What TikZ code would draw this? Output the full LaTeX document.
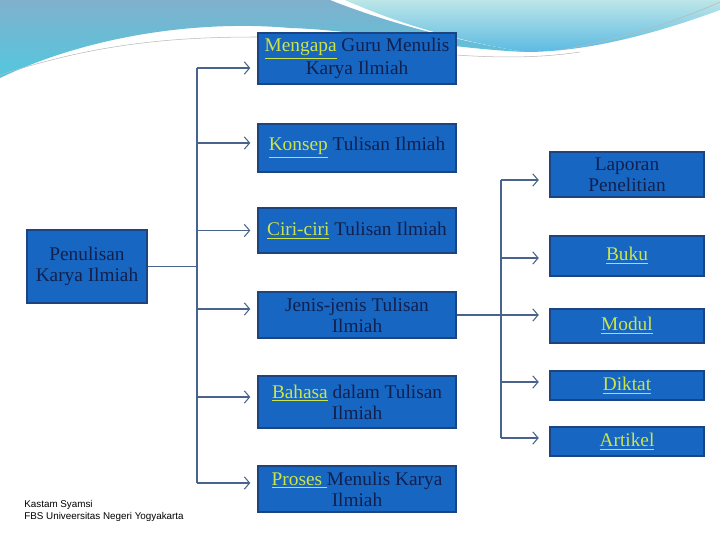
\documentclass[tikz,border=0pt]{standalone}
\usepackage{fontspec}
\setmainfont{Liberation Serif}
\newfontfamily\footfont{Liberation Sans}
\usetikzlibrary{arrows.meta, positioning, calc}
\definecolor{boxblue}{RGB}{22,102,194}
\definecolor{boxedge}{RGB}{28,68,128}
\definecolor{textnavy}{RGB}{18,32,78}
\definecolor{hilite}{RGB}{205,228,72}
\definecolor{linkgray}{RGB}{72,100,140}
\definecolor{waveblue}{RGB}{128,176,205}
\definecolor{wavecyan}{RGB}{82,200,222}
\definecolor{palecyan}{RGB}{188,230,232}
\definecolor{deepcyan}{RGB}{92,186,226}
\newcommand{\hl}[1]{\textcolor{hilite}{\underline{#1}}}

\begin{document}
\begin{tikzpicture}[x=0.02cm, y=-0.02cm,
  kbox/.style={draw=boxedge, line width=0.8pt, fill=boxblue, text=textnavy, align=center, inner sep=1pt, font=\fontsize{11}{12}\selectfont},
  midbox/.style={kbox, minimum width=3.96cm},
  subbox/.style={kbox, minimum width=3.08cm},
  link/.style={draw=linkgray, line width=0.6pt},
  arr/.style={link, -{Straight Barb[length=3pt, width=7pt]}, shorten >=4pt}
]
  \useasboundingbox (0,0) rectangle (720,540);
  \fill[white] (0,0) rectangle (720,540);

  % top waves
  \shade[top color=waveblue, bottom color=wavecyan] (0,0) -- (330,0) .. controls (380,20) and (450,40) .. (525,52)
    .. controls (440,48) and (360,30) .. (290,28) .. controls (200,20) and (90,35) .. (0,78) -- cycle;
  \shade[top color=palecyan, bottom color=deepcyan] (345,0) -- (720,0) -- (720,10) .. controls (660,32) and (590,52) .. (525,52)
    .. controls (450,40) and (390,20) .. (345,0) -- cycle;
  \draw[gray!55, line width=0.3pt] (0,75) .. controls (100,42) and (180,37) .. (258,37);
  \draw[gray!55, line width=0.3pt] (456,55) .. controls (500,58) and (540,58) .. (580,52);
  \draw[gray!55, line width=0.3pt] (560,50) .. controls (620,40) and (680,20) .. (720,2);

  \node[kbox, minimum width=2.4cm, minimum height=1.46cm] (penulisan) at (87,266.5) {Penulisan\\Karya Ilmiah};

  \node[midbox, minimum height=1.02cm] (mengapa) at (357,58.5) {\hl{Mengapa} Guru Menulis\\Karya Ilmiah};
  \node[midbox, minimum height=0.96cm] (konsep) at (357,148) {\hl{Konsep} Tulisan Ilmiah};
  \node[midbox, minimum height=0.9cm] (ciri) at (357,230.5) {\hl{Ciri-ciri} Tulisan Ilmiah};
  \node[midbox, minimum height=0.92cm] (jenis) at (357,315) {Jenis-jenis Tulisan\\Ilmiah};
  \node[midbox, minimum height=1.04cm] (bahasa) at (357,402) {\hl{Bahasa} dalam Tulisan\\Ilmiah};
  \node[midbox, minimum height=0.92cm] (proses) at (357,489) {\hl{Proses\ }Menulis Karya\\Ilmiah};

  \node[subbox, minimum height=0.9cm] (laporan) at (627,174.5) {Laporan\\Penelitian};
  \node[subbox, minimum height=0.8cm] (buku) at (627,256) {\hl{Buku}};
  \node[subbox, minimum height=0.68cm] (modul) at (627,326) {\hl{Modul}};
  \node[subbox, minimum height=0.58cm] (diktat) at (627,385.5) {\hl{Diktat}};
  \node[subbox, minimum height=0.58cm] (artikel) at (627,441.5) {\hl{Artikel}};

  \node[anchor=north west, inner sep=0pt, align=left, font=\footfont\fontsize{5.6}{6.8}\selectfont] (penulis) at (24,500)
    {Kastam Syamsi\\FBS Univeersitas Negeri Yogyakarta};

  \coordinate (trunkL) at (197,0);
  \coordinate (trunkR) at (501,0);
  \foreach \n/\dy in {mengapa/9.5, konsep/-5, ciri/0, jenis/-6, bahasa/-5, proses/-6}
    \coordinate (\n-in) at ($(\n.west)+(0,\dy)$);
  \foreach \n/\dy in {laporan/5.5, buku/2, modul/-11, diktat/-3.5, artikel/-3.5}
    \coordinate (\n-in) at ($(\n.west)+(0,\dy)$);

  \draw[link] (penulisan.east) -- (trunkL |- penulisan.east);
  \draw[link] (trunkL |- mengapa-in) -- (trunkL |- proses-in);
  \foreach \n in {mengapa, konsep, ciri, jenis, bahasa, proses}
    \draw[arr] (trunkL |- \n-in) -- (\n-in);

  \draw[link] (jenis.east) -- (trunkR |- jenis.east);
  \draw[link] (trunkR |- laporan-in) -- (trunkR |- artikel-in);
  \foreach \n in {laporan, buku, modul, diktat, artikel}
    \draw[arr, shorten >=6pt] (trunkR |- \n-in) -- (\n-in);
\end{tikzpicture}
\end{document}
